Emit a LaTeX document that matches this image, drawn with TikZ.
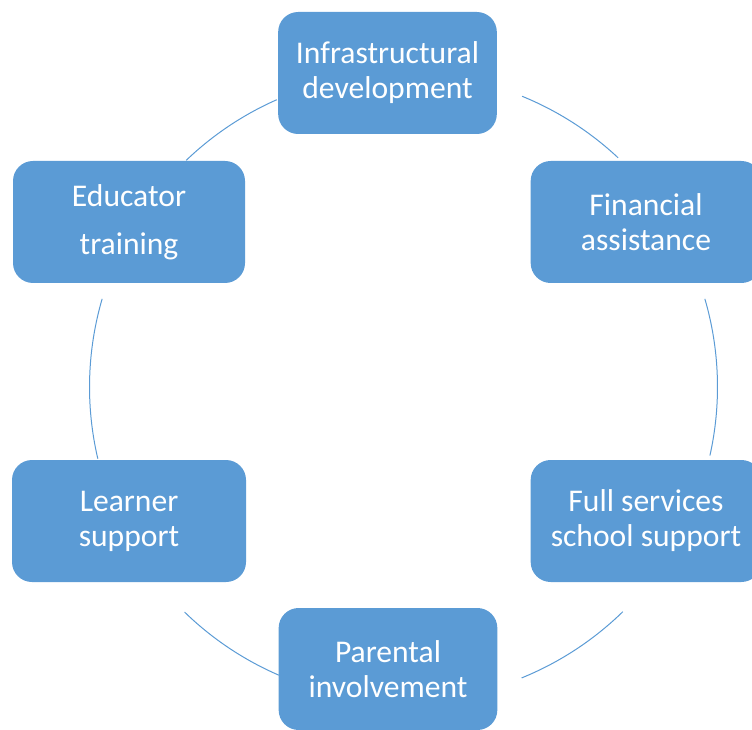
\documentclass[tikz,border=0pt]{standalone}
\usepackage{fontspec}
\setmainfont{Carlito}
\usepackage{tikz}
\definecolor{officeblue}{RGB}{91, 155, 213}

\begin{document}
\begin{tikzpicture}[
    x=0.75pt, y=0.75pt,
    every node/.style={font=\fontsize{23.7}{26.3}\selectfont},
    block/.style={rectangle, rounded corners=15pt, fill=officeblue, text=white, align=center, minimum width=164pt, minimum height=91.5pt, inner sep=0pt},
    ring/.style={draw=officeblue, line width=0.75pt}
]
    \useasboundingbox (0,0) rectangle (752,729);
    \coordinate (hub) at (403.5,342);

    \node[block] (infra)    at (387.5,656) {Infrastructural\\development};
    \node[block, minimum width=173pt] (finance)  at (646,507) {Financial\\assistance};
    \node[block, minimum width=173pt] (fullsvc) at (646,208) {Full services\\school support};
    \node[block] (parental) at (388,60) {Parental\\involvement};
    \node[block, minimum width=175.5pt] (learner)  at (129,208) {Learner\\support};
    \node[block, minimum width=174pt] (educator) at (129,507) {Educator\\[9.7pt]training};

    % pieces of the cycle between the blocks
    \draw[ring] (hub) ++(67.8:235.5pt) arc[start angle=67.8, end angle=46.9, radius=235.5pt];
    \draw[ring] (hub) ++(16.3:235.5pt) arc[start angle=16.3, end angle=-12.6, radius=235.5pt];
    \draw[ring] (hub) ++(-45.7:235.5pt) arc[start angle=-45.7, end angle=-67.9, radius=235.5pt];
    \draw[ring] (hub) ++(246.6:235.5pt) arc[start angle=246.6, end angle=225.8, radius=235.5pt];
    \draw[ring] (hub) ++(193.2:235.5pt) arc[start angle=193.2, end angle=163.7, radius=235.5pt];
    \draw[ring] (hub) ++(133.8:235.5pt) arc[start angle=133.8, end angle=113.8, radius=235.5pt];
\end{tikzpicture}
\end{document}
